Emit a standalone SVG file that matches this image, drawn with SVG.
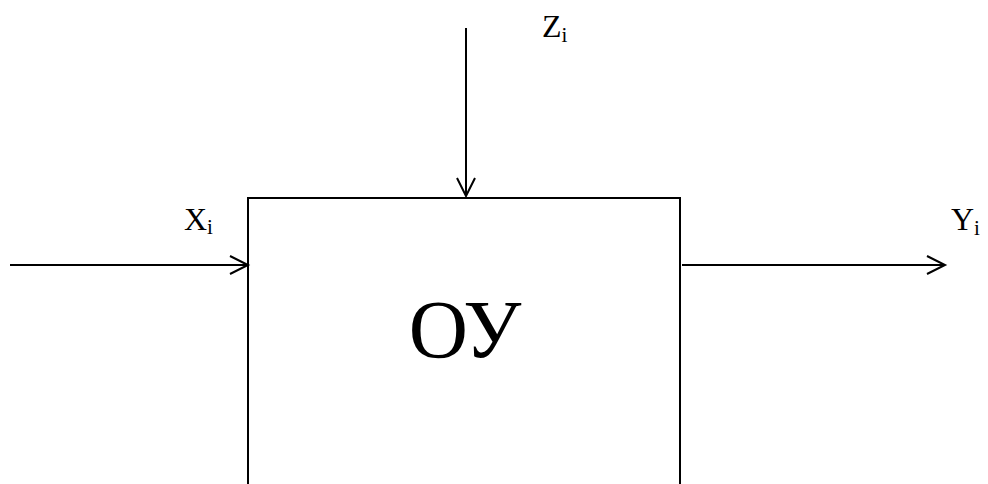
<svg xmlns="http://www.w3.org/2000/svg" width="988" height="484" viewBox="0 0 988 484">
<style>
.ln{stroke:#000;stroke-width:2;fill:none}
.t{font-family:"Liberation Serif","Times New Roman",serif;fill:#000}
.lbl{font-size:32px}
.sub{font-size:21px}
</style>
<defs>
<marker id="ah" markerUnits="userSpaceOnUse" markerWidth="24" markerHeight="24" viewBox="-20 -12 24 24" refX="0" refY="0" orient="auto">
<path d="M-18,-9 L0,0 L-18,9" fill="none" stroke="#000" stroke-width="2"/>
</marker>
</defs>
<rect width="988" height="484" fill="#fff"/>
<g id="OU">
<path class="ln" d="M248,484 V198 H680 V484"/>
<text class="t" x="465" y="357" font-size="82" text-anchor="middle">ОУ</text>
</g>
<g id="connectors">
<line class="ln" x1="10" y1="265" x2="248" y2="265" marker-end="url(#ah)"/>
<line class="ln" x1="682" y1="265" x2="945" y2="265" marker-end="url(#ah)"/>
<line class="ln" x1="466" y1="28" x2="466" y2="196" marker-end="url(#ah)"/>
</g>
<g id="labelX"><text class="t lbl" x="184" y="230">X<tspan class="sub" dy="4">i</tspan></text></g>
<g id="labelY"><text class="t lbl" x="951" y="230">Y<tspan class="sub" dy="5">i</tspan></text></g>
<g id="labelZ"><text class="t lbl" x="542" y="37">Z<tspan class="sub" dy="5">i</tspan></text></g>
</svg>
